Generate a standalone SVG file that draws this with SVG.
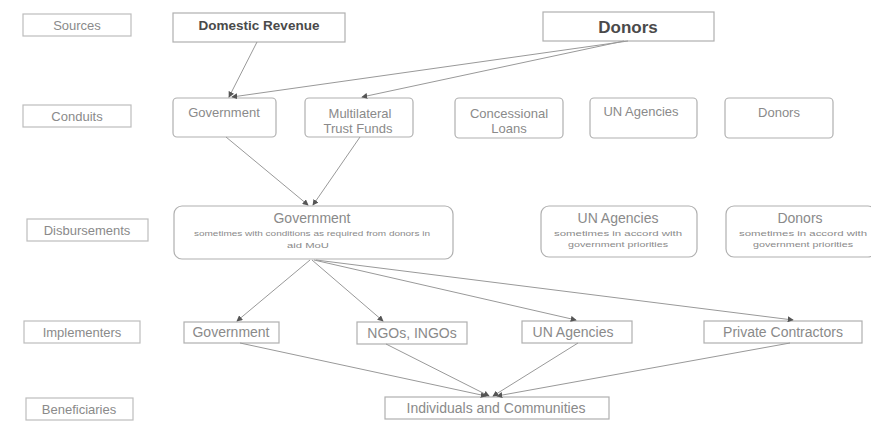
<svg xmlns="http://www.w3.org/2000/svg" width="871" height="422" viewBox="0 0 871 422">
<defs>
<marker id="ah" viewBox="0 0 8 8" refX="7" refY="4" markerWidth="6" markerHeight="6" orient="auto" markerUnits="userSpaceOnUse">
<path d="M0,0 L8,4 L0,8 z" fill="#555"/>
</marker>
</defs>
<style>
.lab rect{fill:#fff;stroke:#bdbdbd;stroke-width:1.2}
.node rect{fill:#fff;stroke:#b0b0b0;stroke-width:1.2}
text{font-family:"Liberation Sans",Arial,sans-serif;fill:#8a8a8a;text-anchor:middle}
.t{font-size:13px}
.m{font-size:14px}
.s{font-size:8px}
.b{font-weight:bold;fill:#4a4a4a}
#conn line{stroke:#999;stroke-width:1;marker-end:url(#ah)}
</style>
<rect width="871" height="422" fill="#fff"/>

<g id="lab-sources" class="lab"><rect x="23" y="14" width="108" height="22"/><text class="t" x="77" y="30">Sources</text></g>
<g id="lab-conduits" class="lab"><rect x="23" y="105" width="108" height="22"/><text class="t" x="77" y="121">Conduits</text></g>
<g id="lab-disb" class="lab"><rect x="27" y="219" width="121" height="22"/><text class="t" x="87" y="235">Disbursements</text></g>
<g id="lab-impl" class="lab"><rect x="24" y="321" width="116" height="22"/><text class="t" x="82" y="337">Implementers</text></g>
<g id="lab-ben" class="lab"><rect x="26" y="398" width="107" height="22"/><text class="t" x="79" y="414">Beneficiaries</text></g>

<g id="src-domestic" class="node"><rect x="173" y="13" width="172" height="29"/><text class="b" x="259" y="30" font-size="13.5">Domestic Revenue</text></g>
<g id="src-donors" class="node"><rect x="543" y="12" width="171" height="29"/><text class="b" x="628" y="33" font-size="17">Donors</text></g>

<g id="c-gov" class="node"><rect x="173" y="98" width="103" height="39" rx="4"/><text class="t" x="224" y="117">Government</text></g>
<g id="c-mtf" class="node"><rect x="305" y="98" width="108" height="39" rx="4"/><text class="t" x="360" y="118">Multilateral</text><text class="t" x="358" y="133">Trust Funds</text></g>
<g id="c-loans" class="node"><rect x="455" y="98" width="108" height="40" rx="4"/><text class="t" x="509" y="118">Concessional</text><text class="t" x="509" y="133">Loans</text></g>
<g id="c-un" class="node"><rect x="590" y="98" width="107" height="40" rx="4"/><text class="t" x="641" y="116">UN Agencies</text></g>
<g id="c-donors" class="node"><rect x="725" y="98" width="108" height="40" rx="4"/><text class="t" x="779" y="117">Donors</text></g>

<g id="d-gov" class="node"><rect x="174" y="206" width="279" height="53" rx="8"/><text class="m" x="312" y="223">Government</text><text class="s" x="312" y="236" textLength="236" lengthAdjust="spacingAndGlyphs">sometimes with conditions as required from donors in</text><text class="s" x="308" y="248" textLength="42" lengthAdjust="spacingAndGlyphs">aid MoU</text></g>
<g id="d-un" class="node"><rect x="541" y="206" width="156" height="51" rx="8"/><text class="m" x="618" y="223">UN Agencies</text><text class="s" x="618" y="236" textLength="128" lengthAdjust="spacingAndGlyphs">sometimes in accord with</text><text class="s" x="618" y="247" textLength="100" lengthAdjust="spacingAndGlyphs">government priorities</text></g>
<g id="d-donors" class="node"><rect x="726" y="206" width="150" height="51" rx="8"/><text class="m" x="800" y="223">Donors</text><text class="s" x="803" y="236" textLength="128" lengthAdjust="spacingAndGlyphs">sometimes in accord with</text><text class="s" x="803" y="247" textLength="100" lengthAdjust="spacingAndGlyphs">government priorities</text></g>

<g id="i-gov" class="node"><rect x="184" y="322" width="95" height="21"/><text class="m" x="231" y="337">Government</text></g>
<g id="i-ngo" class="node"><rect x="357" y="322" width="110" height="22"/><text class="m" x="412" y="338">NGOs, INGOs</text></g>
<g id="i-un" class="node"><rect x="522" y="321" width="110" height="22"/><text class="m" x="573" y="337">UN Agencies</text></g>
<g id="i-pc" class="node"><rect x="704" y="321" width="158" height="22"/><text class="m" x="783" y="337">Private  Contractors</text></g>

<g id="b-ind" class="node"><rect x="385" y="397" width="224" height="22"/><text class="m" x="496" y="413">Individuals and Communities</text></g>

<g id="conn">
<line x1="257" y1="42" x2="229" y2="97"/>
<line x1="628" y1="41" x2="232" y2="97"/>
<line x1="624" y1="41" x2="362" y2="97"/>
<line x1="226" y1="137" x2="308" y2="205"/>
<line x1="360" y1="137" x2="313" y2="205"/>
<line x1="310" y1="260" x2="237" y2="321"/>
<line x1="312" y1="260" x2="383" y2="321"/>
<line x1="314" y1="260" x2="576" y2="320"/>
<line x1="316" y1="260" x2="793" y2="320"/>
<line x1="240" y1="343" x2="486" y2="396"/>
<line x1="386" y1="344" x2="489" y2="396"/>
<line x1="578" y1="343" x2="493" y2="396"/>
<line x1="790" y1="343" x2="497" y2="396"/>
</g>
</svg>
